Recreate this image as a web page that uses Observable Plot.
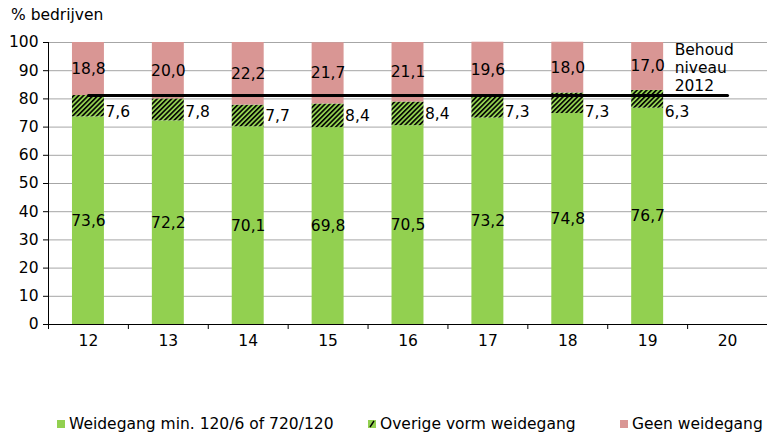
<!DOCTYPE html>
<html>
<head>
<meta charset="utf-8">
<script src="https://cdn.jsdelivr.net/npm/d3@7"></script>
<script src="https://cdn.jsdelivr.net/npm/@observablehq/plot@0.6"></script>
<style>
  body { margin: 0; background: #fff; font-family: "DejaVu Sans", Verdana, sans-serif; overflow: hidden; }
  #wrap { position: relative; width: 767px; height: 434px; }
  #title { position: absolute; left: 11px; top: 6px; font-size: 15.5px; line-height: 18px; color: #000; }
  .leg { position: absolute; top: 415px; height: 18px; font-size: 15.5px; line-height: 18px; color: #000; white-space: nowrap; display: flex; align-items: center; }
  .sw { width: 8px; height: 8px; display: inline-block; margin-right: 4px; flex: none; }
</style>
</head>
<body>
<div id="wrap">
  <div id="chart"></div>
  <div id="title">% bedrijven</div>
  <div class="leg" style="left:57px"><span class="sw" style="background:#92D050"></span>Weidegang min. 120/6 of 720/120</div>
  <div class="leg" style="left:368px"><svg class="sw" width="8" height="8" viewBox="0 0 8 8"><rect width="8" height="8" fill="#92D050"/><line x1="2" y1="7" x2="6" y2="1" stroke="#000" stroke-width="1.4"/></svg>Overige vorm weidegang</div>
  <div class="leg" style="left:620px"><span class="sw" style="background:#D99694"></span>Geen weidegang</div>
</div>
<script>
const years = ["12", "13", "14", "15", "16", "17", "18", "19"];
const xTicks = ["12", "13", "14", "15", "16", "17", "18", "19", "20"];
const weidegang = [73.6, 72.2, 70.1, 69.8, 70.5, 73.2, 74.8, 76.7];
const overige = [7.6, 7.8, 7.7, 8.4, 8.4, 7.3, 7.3, 6.3];
const geen = [18.8, 20.0, 22.2, 21.7, 21.1, 19.6, 18.0, 17.0];
const seriesNames = ["Weidegang min. 120/6 of 720/120", "Overige vorm weidegang", "Geen weidegang"];
const yTicks = [0, 10, 20, 30, 40, 50, 60, 70, 80, 90, 100];
const behoud = 81.2;
const behoudLabel = "Behoud\nniveau\n2012";
const behoudRange = ["12", "20"];

const fmt = v => v.toFixed(1).replace(".", ",");

const long = [];
years.forEach((yr, i) => {
  long.push({year: yr, series: seriesNames[0], value: weidegang[i]});
  long.push({year: yr, series: seriesNames[1], value: overige[i]});
  long.push({year: yr, series: seriesNames[2], value: geen[i]});
});
const rows = years.map((yr, i) => ({
  year: yr, w: weidegang[i], o: overige[i], g: geen[i]
}));

const W = 767, H = 434, mL = 48, mR = 0, mT = 42, mB = 110;
const step = (W - mL - mR) / xTicks.length;
const barW = step * 0.4;
const font = "DejaVu Sans, Verdana, sans-serif";
const fs = 15.5;

const chart = Plot.plot({
  width: W, height: H,
  marginLeft: mL, marginRight: mR, marginTop: mT, marginBottom: mB,
  style: {fontFamily: font, fontSize: fs + "px", color: "#000", background: "#fff", overflow: "visible"},
  x: {domain: xTicks, paddingInner: 0.6, paddingOuter: 0.3, round: false, label: null},
  y: {domain: [0, 100], label: null},
  color: {domain: seriesNames, range: ["#92D050", "url(#hatch)", "#D99694"]},
  marks: [
    Plot.gridY(yTicks, {stroke: "#a6a6a6", strokeOpacity: 1, strokeWidth: 1}),
    Plot.barY(long, {x: "year", y: "value", fill: "series"}),
    Plot.frame({anchor: "left", stroke: "#000"}),
    Plot.frame({anchor: "bottom", stroke: "#000"}),
    Plot.axisY(yTicks, {tickSize: 5, tickPadding: 5, fontSize: fs, stroke: "#000", fill: "#000"}),
    Plot.axisX(xTicks, {tickSize: 0, tickPadding: 10, fontSize: fs, fill: "#000"}),
    Plot.axisX(xTicks, {tickSize: 5, text: null, dx: -step / 2, stroke: "#000"}),
    Plot.lineY(behoudRange.map(x => ({x, y: behoud})), {x: "x", y: "y", stroke: "#000", strokeWidth: 3}),
    Plot.text(rows, {x: "year", y: d => d.w / 2, text: d => fmt(d.w), fontSize: fs, fill: "#000"}),
    Plot.text(rows, {x: "year", y: d => Math.min(d.w + d.o / 2, behoud - 6), text: d => fmt(d.o), fontSize: fs, fill: "#000", textAnchor: "start", dx: barW / 2 + 1}),
    Plot.text(rows, {x: "year", y: d => d.w + d.o + d.g / 2, text: d => fmt(d.g), fontSize: fs, fill: "#000"}),
    Plot.text([behoudLabel], {x: () => "19", y: () => behoud, text: d => d, textAnchor: "start", lineAnchor: "bottom", lineHeight: 1.16, dx: barW / 2 + 11, dy: -5, fontSize: fs, fill: "#000"})
  ]
});

d3.select(chart).insert("defs", ":first-child").html(
  '<pattern id="hatch" patternUnits="userSpaceOnUse" width="3.4" height="3.4" patternTransform="rotate(45)">' +
  '<rect width="3.4" height="3.4" fill="#92D050"/>' +
  '<line x1="0.8" y1="0" x2="0.8" y2="3.4" stroke="#000" stroke-width="1.6"/>' +
  '</pattern>'
);

document.getElementById("chart").appendChild(chart);
</script>
</body>
</html>
